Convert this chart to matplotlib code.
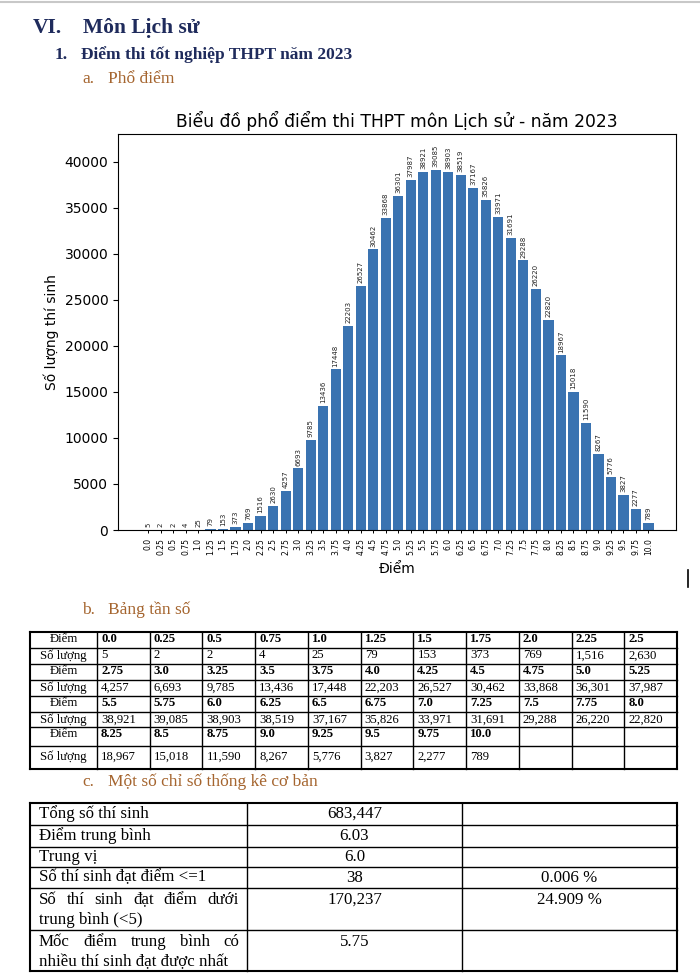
import matplotlib
matplotlib.use("Agg")
import matplotlib.pyplot as plt

# ---------------- data ----------------
scores = ["0.0", "0.25", "0.5", "0.75", "1.0", "1.25", "1.5", "1.75", "2.0", "2.25", "2.5",
          "2.75", "3.0", "3.25", "3.5", "3.75", "4.0", "4.25", "4.5", "4.75", "5.0", "5.25",
          "5.5", "5.75", "6.0", "6.25", "6.5", "6.75", "7.0", "7.25", "7.5", "7.75", "8.0",
          "8.25", "8.5", "8.75", "9.0", "9.25", "9.5", "9.75", "10.0"]
counts = [5, 2, 2, 4, 25, 79, 153, 373, 769, 1516, 2630,
          4257, 6693, 9785, 13436, 17448, 22203, 26527, 30462, 33868, 36301, 37987,
          38921, 39085, 38903, 38519, 37167, 35826, 33971, 31691, 29288, 26220, 22820,
          18967, 15018, 11590, 8267, 5776, 3827, 2277, 789]
yticks = [0, 5000, 10000, 15000, 20000, 25000, 30000, 35000, 40000]

stat_labels = ["Tổng số thí sinh", "Điểm trung bình", "Trung vị", "Số thí sinh đạt điểm <=1",
               "Số thí sinh đạt điểm dưới\ntrung bình (<5)",
               "Mốc điểm trung bình có\nnhiều thí sinh đạt được nhất"]
stat_values = ["683,447", "6.03", "6.0", "38", "170,237", "5.75"]
stat_pct = ["", "", "", "0.006 %", "24.909 %", ""]

chart_title = "Biểu đồ phổ điểm thi THPT môn Lịch sử - năm 2023"
xlabel = "Điểm"
ylabel = "Số lượng thí sinh"

# ---------------- layout ----------------
W, H = 700, 974
SERIF = "Liberation Serif"
NAVY = "#1F2B5C"
BROWN = "#A5652F"
BAR = "#3A73B1"

fig = plt.figure(figsize=(W / 100, H / 100), dpi=100)
bg = fig.add_axes([0, 0, 1, 1])
bg.set_xlim(0, W)
bg.set_ylim(H, 0)
bg.axis("off")

# top gray rule
bg.plot([0, W], [2, 2], color="#c8c8c8", lw=1.5)

# headings
bg.text(33, 28, "VI.", fontfamily=SERIF, fontsize=15.5, fontweight="bold", color=NAVY, va="center")
bg.text(83, 28, "Môn Lịch sử", fontfamily=SERIF, fontsize=15.5, fontweight="bold", color=NAVY, va="center")
bg.text(55, 55, "1.", fontfamily=SERIF, fontsize=12.5, fontweight="bold", color=NAVY, va="center")
bg.text(81, 55, "Điểm thi tốt nghiệp THPT năm 2023", fontfamily=SERIF, fontsize=12.5,
        fontweight="bold", color=NAVY, va="center")
for lab, txt, y in [("a.", "Phổ điểm", 79), ("b.", "Bảng tần số", 610),
                    ("c.", "Một số chỉ số thống kê cơ bản", 782)]:
    bg.text(82, y, lab, fontfamily=SERIF, fontsize=12.5, color=BROWN, va="center")
    bg.text(108, y, txt, fontfamily=SERIF, fontsize=12.5, color=BROWN, va="center")

# cursor mark
bg.plot([688, 688], [570, 587], color="black", lw=1.2)

# ---------------- chart ----------------
ax_l, ax_r, ax_t, ax_b = 118, 676, 134, 530
ax = fig.add_axes([ax_l / W, 1 - ax_b / H, (ax_r - ax_l) / W, (ax_b - ax_t) / H])
pos = list(range(len(scores)))
bars = ax.bar(pos, counts, width=0.82, color=BAR)
ax.bar_label(bars, labels=[str(c) for c in counts], rotation=90, fontsize=5, padding=2, color="#222222")
ax.set_xticks(pos)
ax.set_xticklabels(scores, rotation=90, fontsize=5.5)
ax.set_yticks(yticks)
ax.tick_params(axis="y", labelsize=10)
ax.tick_params(axis="x", length=2.5, width=0.7)
ax.set_xlim(-2.4, 42.2)
ax.set_ylim(0, 43000)
ax.set_title(chart_title, fontsize=12.3, pad=5)
ax.set_xlabel(xlabel, fontsize=10, labelpad=5)
ax.set_ylabel(ylabel, fontsize=10)

# ---------------- frequency table ----------------
tb_rows = [632, 647.5, 663.5, 679.5, 695.5, 711.5, 727, 746, 769]
tb_cols = [30, 97] + [97 + (677 - 97) * (i + 1) / 11 for i in range(11)]
lw_in, lw_out = 1.0, 1.5
for i, y in enumerate(tb_rows):
    bg.plot([tb_cols[0], tb_cols[-1]], [y, y], color="black",
            lw=lw_out if i in (0, len(tb_rows) - 1) else lw_in, solid_capstyle="projecting")
for j, x in enumerate(tb_cols):
    bg.plot([x, x], [tb_rows[0], tb_rows[-1]], color="black",
            lw=lw_out if j in (0, len(tb_cols) - 1) else lw_in, solid_capstyle="projecting")

ncol = 11
fs_b = 9.2
text_y = [639.5, 655.5, 671.5, 687.5, 703.5, 719.5, 734, 756.5]
for g in range(4):
    s_chunk = scores[g * ncol:(g + 1) * ncol]
    c_chunk = counts[g * ncol:(g + 1) * ncol]
    ys, yc = text_y[2 * g], text_y[2 * g + 1]
    bg.text((tb_cols[0] + tb_cols[1]) / 2, ys, "Điểm", fontfamily=SERIF, fontsize=fs_b,
            ha="center", va="center")
    bg.text((tb_cols[0] + tb_cols[1]) / 2, yc, "Số lượng", fontfamily=SERIF, fontsize=fs_b,
            ha="center", va="center")
    for k, (s, c) in enumerate(zip(s_chunk, c_chunk)):
        x = tb_cols[k + 1] + 4
        bg.text(x, ys, s, fontfamily=SERIF, fontsize=fs_b, fontweight="bold", va="center")
        bg.text(x, yc, f"{c:,}", fontfamily=SERIF, fontsize=fs_b, va="center")

# ---------------- statistics table ----------------
sc_rows = [803, 825, 847, 867, 888, 930, 971]
sc_cols = [30, 247, 462, 677]
for i, y in enumerate(sc_rows):
    bg.plot([sc_cols[0], sc_cols[-1]], [y, y], color="black",
            lw=lw_out if i in (0, len(sc_rows) - 1) else lw_in, solid_capstyle="projecting")
for j, x in enumerate(sc_cols):
    bg.plot([x, x], [sc_rows[0], sc_rows[-1]], color="black",
            lw=lw_out if j in (0, len(sc_cols) - 1) else lw_in, solid_capstyle="projecting")

fs_c = 12.2
to_justify = []
for i, (lab, val, pct) in enumerate(zip(stat_labels, stat_values, stat_pct)):
    top, bot = sc_rows[i], sc_rows[i + 1]
    lines = lab.split("\n")
    if len(lines) == 1:
        yc = (top + bot) / 2
        bg.text(39, yc, lab, fontfamily=SERIF, fontsize=fs_c, va="center")
        ly = yc
    else:
        ly = top + 11.5
        words = lines[0].split(" ")
        arts = [bg.text(39, ly, w, fontfamily=SERIF, fontsize=fs_c, va="center") for w in words]
        to_justify.append(arts)
        bg.text(39, ly + 21, lines[1], fontfamily=SERIF, fontsize=fs_c, va="center")
    bg.text((sc_cols[1] + sc_cols[2]) / 2, ly, val, fontfamily=SERIF, fontsize=fs_c,
            ha="center", va="center")
    if pct:
        bg.text((sc_cols[2] + sc_cols[3]) / 2, ly, pct, fontfamily=SERIF, fontsize=fs_c,
                ha="center", va="center")

fig.canvas.draw()
r = fig.canvas.get_renderer()
x0, x1 = 39, 239
for arts in to_justify:
    widths = [a.get_window_extent(r).width for a in arts]
    gap = (x1 - x0 - sum(widths)) / (len(arts) - 1)
    x = x0
    for a, w in zip(arts, widths):
        a.set_x(x)
        x += w + gap

fig.savefig("out.png", dpi=100)
